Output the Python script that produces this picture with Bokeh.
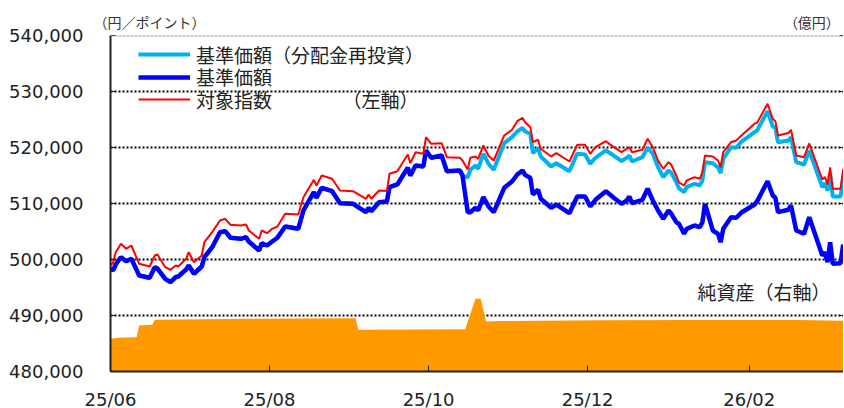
import pandas as pd
from bokeh.plotting import figure
from bokeh.models import (ColumnDataSource, Range1d, LinearAxis, FixedTicker,
                          NumeralTickFormatter, CustomJSTickFormatter, Span, Label,
                          Legend, LegendItem)
from bokeh.embed import file_html
from bokeh.resources import INLINE

# ---------------- data ----------------
dates = [
    "2025-06-01", "2025-06-02", "2025-06-03", "2025-06-05", "2025-06-07", "2025-06-09",
    "2025-06-12", "2025-06-16", "2025-06-18", "2025-06-19", "2025-06-22", "2025-06-24",
    "2025-06-26", "2025-06-27", "2025-06-30", "2025-07-01", "2025-07-03", "2025-07-06",
    "2025-07-07", "2025-07-10", "2025-07-13", "2025-07-15", "2025-07-17", "2025-07-21",
    "2025-07-23", "2025-07-24", "2025-07-28", "2025-07-29", "2025-07-31", "2025-08-02",
    "2025-08-04", "2025-08-07", "2025-08-12", "2025-08-14", "2025-08-18", "2025-08-19",
    "2025-08-21", "2025-08-25", "2025-08-28", "2025-09-02", "2025-09-07", "2025-09-08",
    "2025-09-09", "2025-09-12", "2025-09-15", "2025-09-16", "2025-09-19", "2025-09-23",
    "2025-09-24", "2025-09-26", "2025-09-29", "2025-09-30", "2025-10-02", "2025-10-06",
    "2025-10-08", "2025-10-13", "2025-10-14", "2025-10-16", "2025-10-17", "2025-10-19",
    "2025-10-20", "2025-10-22", "2025-10-24", "2025-10-26", "2025-10-30", "2025-11-02",
    "2025-11-04", "2025-11-06", "2025-11-07", "2025-11-09", "2025-11-10", "2025-11-12",
    "2025-11-13", "2025-11-17", "2025-11-19", "2025-11-24", "2025-11-27", "2025-11-30",
    "2025-12-02", "2025-12-04", "2025-12-08", "2025-12-11", "2025-12-14", "2025-12-16",
    "2025-12-17", "2025-12-18", "2025-12-22", "2025-12-24", "2025-12-26", "2025-12-28",
    "2025-12-30", "2026-01-01", "2026-01-02", "2026-01-04", "2026-01-05", "2026-01-07",
    "2026-01-08", "2026-01-11", "2026-01-13", "2026-01-14", "2026-01-15", "2026-01-18",
    "2026-01-20", "2026-01-21", "2026-01-22", "2026-01-25", "2026-01-27", "2026-01-29",
    "2026-02-03", "2026-02-04", "2026-02-08", "2026-02-10", "2026-02-11", "2026-02-12",
    "2026-02-16", "2026-02-17", "2026-02-19", "2026-02-22", "2026-02-24", "2026-03-01",
    "2026-03-02", "2026-03-03", "2026-03-04", "2026-03-05", "2026-03-08", "2026-03-09",
]

# 対象指数
index_values = [
    498930, 499460, 501300, 502800, 501910, 502500, 499230, 498750, 500710, 500890,
    498620, 498160, 498930, 498750, 500130, 501300, 499520, 500710, 503090, 504880,
    506970, 507270, 506200, 506070, 506250, 505180, 503700, 505180, 504700, 505480,
    505890, 508160, 508040, 511130, 514230, 513220, 515000, 514410, 512320, 512200,
    510840, 511610, 510840, 512320, 512230, 515310, 515770, 518750, 517200, 519160,
    518880, 521840, 520660, 520770, 518270, 518160, 517680, 516070, 518160, 518390,
    517980, 520360, 518490, 517680, 522150, 523160, 524700, 525310, 524520, 523630,
    520950, 521380, 519770, 518400, 518990, 517500, 520490, 520490, 518880, 520060,
    521130, 520060, 519160, 519770, 520060, 519160, 519590, 521560, 520060, 517680,
    516200, 517380, 516970, 515000, 513750, 513220, 514110, 514700, 514410, 515590,
    518570, 518390, 517680, 516430, 519160, 520950, 521250, 522150, 524240, 524430,
    527810, 525130, 524700, 522150, 522590, 523160, 518570, 518270, 520720, 514290,
    514730, 513400, 516430, 512630, 512630, 516200,
]

# 基準価額
nav_values = [
    498340, 498040, 499110, 500410, 499700, 500130, 497140, 496730, 498620, 498390,
    496550, 495950, 496840, 496960, 498210, 498930, 497450, 498750, 500410, 502200,
    504880, 505050, 503880, 503700, 503980, 503210, 501610, 502910, 502500, 503210,
    503880, 505890, 505480, 508750, 512020, 511020, 512810, 512200, 510060, 509950,
    508450, 509230, 508630, 510230, 510360, 512910, 513400, 516380, 515000, 516790,
    516610, 519470, 518160, 518570, 515770, 515900, 515000, 508450, 508450, 509230,
    508750, 511130, 509470, 508450, 512810, 513930, 515180, 515900, 515090, 514590,
    511610, 512450, 510840, 509230, 509820, 508270, 511250, 511250, 509470, 510660,
    512200, 511020, 509950, 510540, 511250, 510060, 510660, 512630, 510540, 508750,
    507270, 508750, 508220, 506660, 506380, 504590, 505480, 506070, 505770, 506660,
    509950, 505180, 504590, 503090, 505480, 507550, 507450, 508390, 509820, 510410,
    513980, 511430, 511020, 508450, 508880, 509640, 505180, 504590, 507550, 500710,
    501300, 499520, 503090, 499230, 499340, 502680,
]

# 基準価額（分配金再投資）
nav_reinvested = [
    498340, 498040, 499110, 500410, 499700, 500130, 497140, 496730, 498620, 498390,
    496550, 495950, 496840, 496960, 498210, 498930, 497450, 498750, 500410, 502200,
    504880, 505050, 503880, 503700, 503980, 503210, 501610, 502910, 502500, 503210,
    503880, 505890, 505480, 508750, 512020, 511020, 512810, 512200, 510060, 509950,
    508450, 509230, 508630, 510230, 510360, 512910, 513400, 516380, 515000, 516790,
    516610, 519470, 518160, 518570, 515770, 515900, 515000, 514650, 516020, 516790,
    516200, 518880, 517060, 516020, 520770, 521840, 522860, 523490, 522860, 522450,
    518990, 519880, 518400, 516610, 517200, 515770, 518880, 518750, 517090, 518160,
    519470, 518570, 517560, 518160, 518570, 517500, 518270, 519950, 518880, 516480,
    514700, 515900, 515540, 513810, 512680, 512020, 512910, 513520, 513220, 514110,
    517380, 517200, 516430, 515410, 517980, 520060, 519950, 521070, 522740, 523040,
    526490, 523750, 523520, 520950, 521250, 521840, 517380, 516970, 519470, 512910,
    513630, 512320, 515310, 511250, 511250, 514590,
]

# 純資産（億円, right axis)
aum_dates = [
    "2025-06-01", "2025-06-04", "2025-06-11", "2025-06-12", "2025-06-17", "2025-06-18",
    "2025-07-24", "2025-09-02", "2025-09-03", "2025-09-04", "2025-10-15", "2025-10-19",
    "2025-10-21", "2025-10-23", "2025-10-28", "2025-12-06", "2026-01-13", "2026-02-20",
    "2026-03-09",
]
aum_values = [
    29.2, 30.1, 30.6, 41.1, 41.7, 46.2, 47.0, 47.6, 47.6, 37.2, 37.8, 64.9,
    64.9, 44.6, 45.0, 45.8, 46.0, 45.9, 45.2,
]

tick_dates = ["2025-06-01", "2025-08-01", "2025-10-01", "2025-12-01", "2026-02-01"]
tick_labels = ["25/06", "25/08", "25/10", "25/12", "26/02"]
y_ticks = [480000, 490000, 500000, 510000, 520000, 530000, 540000]
grid_ticks = [490000, 500000, 510000, 520000, 530000]
aum_ticks = [0, 50, 100, 150, 200, 250, 300]

# unit captions shown above the plot (left axis / right axis)
unit_labels = ["（円／ポイント）", "（億円）"]
unit_label_dates = ["2025-06-16", "2026-02-25"]

legend_labels = ["基準価額（分配金再投資）", "基準価額", "対象指数"]

# ---------------- figure ----------------
src = ColumnDataSource(dict(d=pd.to_datetime(dates), idx=index_values,
                            nav=nav_values, reinv=nav_reinvested))
asrc = ColumnDataSource(dict(d=pd.to_datetime(aum_dates), aum=aum_values))

cjk = "Noto Sans CJK JP"

p = figure(frame_width=733, frame_height=336, x_axis_type="datetime",
           x_range=Range1d(pd.Timestamp("2025-06-01"), pd.Timestamp("2026-03-09 03:00")),
           y_range=Range1d(480000, 540000),
           output_backend="svg", toolbar_location=None,
           min_border_left=110, min_border_top=35, min_border_right=0, min_border_bottom=30,
           background_fill_color="white", border_fill_color="white")
p.outline_line_color = None
p.extra_y_ranges = {"aum": Range1d(0, 300)}

p.varea(x="d", y1=0, y2="aum", source=asrc, y_range_name="aum",
        fill_color="#FF9900", fill_alpha=1.0)

r_lb = p.line("d", "reinv", source=src, line_color="#00B0F0", line_width=4)
r_nav = p.line("d", "nav", source=src, line_color="#0000FF", line_width=4.5)
r_idx = p.line("d", "idx", source=src, line_color="#FF0000", line_width=2)

# grid
p.xgrid.visible = False
p.ygrid.ticker = FixedTicker(ticks=grid_ticks)
p.ygrid.grid_line_color = "black"
p.ygrid.grid_line_dash = "2 2"
p.ygrid.grid_line_width = 2
p.add_layout(Span(location=540000, dimension="width", line_color="#999999",
                  line_width=2, line_dash="3 1"))

# left axis
p.yaxis.ticker = FixedTicker(ticks=y_ticks)
p.yaxis.formatter = NumeralTickFormatter(format="0,0")
p.yaxis.major_label_text_font = "DejaVu Sans"
p.yaxis.major_label_text_font_size = "18px"
p.yaxis.major_label_text_color = "#222222"
p.yaxis.major_tick_in = 5
p.yaxis.major_tick_out = 0
p.yaxis.minor_tick_line_color = None
p.yaxis.axis_line_width = 2
p.yaxis.axis_line_color = "#222222"
p.yaxis.major_tick_line_color = "#222222"
p.yaxis.major_label_standoff = 27

# bottom axis
tick_ms = [float(pd.Timestamp(t).value // 10**6) for t in tick_dates]
nearest_js = """
let best = 0;
for (let i = 0; i < tick_pos.length; i++) {
  if (Math.abs(tick_pos[i] - tick) < Math.abs(tick_pos[best] - tick)) best = i;
}
return tick_text[best];
"""
p.xaxis.ticker = FixedTicker(ticks=tick_ms)
p.xaxis.formatter = CustomJSTickFormatter(args=dict(tick_pos=tick_ms, tick_text=tick_labels),
                                          code=nearest_js)
p.xaxis.major_label_text_font = "DejaVu Sans"
p.xaxis.major_label_text_font_size = "18px"
p.xaxis.major_label_text_color = "#222222"
p.xaxis.major_tick_in = 6
p.xaxis.major_tick_out = 0
p.xaxis.minor_tick_line_color = None
p.xaxis.axis_line_width = 2
p.xaxis.axis_line_color = "#222222"
p.xaxis.major_tick_line_color = "#222222"
p.xaxis.major_label_standoff = 17

# right axis (tick marks only, no labels)
ra = LinearAxis(y_range_name="aum", ticker=FixedTicker(ticks=aum_ticks),
                formatter=CustomJSTickFormatter(code="return '';"),
                axis_line_color="#999999", axis_line_width=1,
                major_tick_in=4, major_tick_out=0, major_tick_line_color="#222222",
                minor_tick_line_color=None, major_label_text_font_size="1px",
                major_label_standoff=0)
p.add_layout(ra, "right")

# unit captions above the frame
unit_ms = [float(pd.Timestamp(t).value // 10**6) for t in unit_label_dates]
ua = LinearAxis(ticker=FixedTicker(ticks=unit_ms),
                formatter=CustomJSTickFormatter(args=dict(tick_pos=unit_ms, tick_text=unit_labels),
                                                code=nearest_js),
                axis_line_color=None, major_tick_line_color=None, minor_tick_line_color=None,
                major_tick_in=0, major_tick_out=0, major_label_standoff=4,
                major_label_text_font=cjk, major_label_text_font_size="14px",
                major_label_text_color="#333333")
p.add_layout(ua, "above")

# legend: one entry per row, placed individually
legend_bottoms = [303, 280.5, 258]
for lab, rend, yb in zip(legend_labels, [r_lb, r_nav, r_idx], legend_bottoms):
    lg = Legend(items=[LegendItem(label=lab, renderers=[rend])],
                location=(28, yb), glyph_width=52, glyph_height=28, label_height=28,
                label_standoff=6, spacing=0, padding=0, margin=0,
                border_line_color=None, background_fill_alpha=0,
                label_text_font=cjk, label_text_font_size="19px",
                label_text_color="#222222", label_text_baseline="middle")
    p.add_layout(lg)

p.add_layout(Label(x=232, y=272, x_units="screen", y_units="screen", text="（左軸）",
                   text_font=cjk, text_font_size="19px", text_baseline="middle",
                   text_color="#222222"))
p.add_layout(Label(x=587, y=80, x_units="screen", y_units="screen", text="純資産（右軸）",
                   text_font=cjk, text_font_size="19px", text_baseline="middle",
                   text_color="#222222"))

open("out.html", "w").write(file_html(p, INLINE))
